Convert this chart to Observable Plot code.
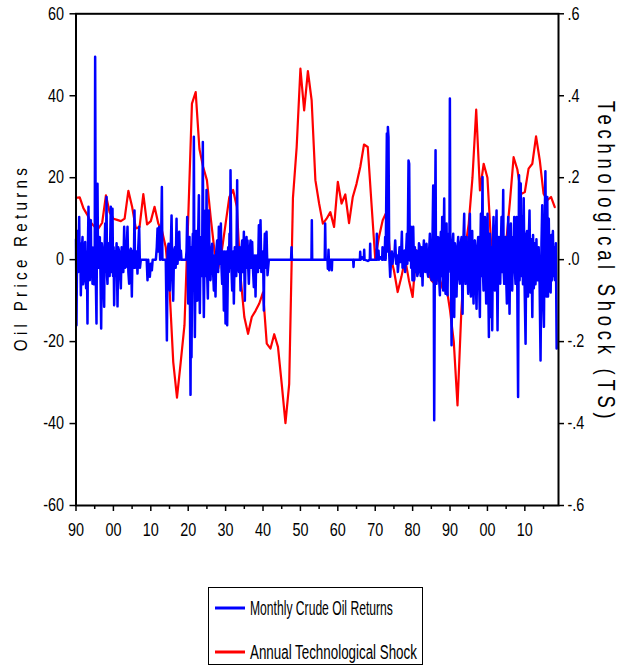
<!DOCTYPE html>
<html>
<head>
<meta charset="utf-8">
<script src="https://cdn.jsdelivr.net/npm/d3@7"></script>
<script src="https://cdn.jsdelivr.net/npm/@observablehq/plot@0.6"></script>
<style>
  html, body { margin: 0; padding: 0; background: #fff; }
  body { width: 618px; height: 666px; position: relative; overflow: hidden;
         font-family: "Liberation Sans", Arial, sans-serif; }
  #chart { position: absolute; left: 0; top: 0; }
  #legend { position: absolute; left: 208px; top: 587px; width: 215px; height: 78px;
            border: 1px solid #000; box-sizing: border-box; background: #fff; }
  #legend svg { position: absolute; left: 0; top: 0; overflow: visible; }
</style>
</head>
<body>
<div id="chart"></div>
<div id="legend"></div>
<script>
// ---------------- data ----------------
const leftTitle = "Oil Price Returns";
const rightTitle = "Technological Shock (TS)";
const legendLabels = ["Monthly Crude Oil Returns", "Annual Technological Shock"];

const yTicks = [-60, -40, -20, 0, 20, 40, 60];
const leftTickLabels = ["-60", "-40", "-20", "0", "20", "40", "60"];
const rightTickLabels = ["-.6", "-.4", "-.2", ".0", ".2", ".4", ".6"];
const xMajorTicks = [1890, 1900, 1910, 1920, 1930, 1940, 1950, 1960, 1970, 1980, 1990, 2000, 2010];
const xTickLabels = ["90", "00", "10", "20", "30", "40", "50", "60", "70", "80", "90", "00", "10"];
const xMinorTicks = [1895, 1905, 1915, 1925, 1935, 1945, 1955, 1965, 1975, 1985, 1995, 2005, 2015];

// Annual technological shock, 1890 .. 2018 (right axis units)
const tsStartYear = 1890;
const tsValues = [
  0.151, 0.152, 0.125, 0.110, 0.090, 0.080, 0.076, 0.090, 0.157, 0.115,   // 1890s
  0.100, 0.097, 0.094, 0.100, 0.168, 0.129, 0.076, 0.080, 0.160, 0.086,   // 1900s
  0.094, 0.129, 0.088, 0.070, 0.030, -0.070, -0.250, -0.337, -0.250, -0.160, // 1910s
  0.100, 0.381, 0.409, 0.270, 0.226, 0.194, 0.104, 0.023, -0.022, 0.023,  // 1920s
  0.088, 0.153, 0.170, 0.129, -0.042, -0.140, -0.181, -0.140, -0.125, -0.107, // 1930s
  -0.080, -0.205, -0.217, -0.182, -0.213, -0.303, -0.399, -0.303, 0.150, 0.275, // 1940s
  0.466, 0.364, 0.460, 0.389, 0.194, 0.137, 0.088, 0.100, 0.116, 0.080,   // 1950s
  0.190, 0.137, 0.159, 0.089, 0.153, 0.185, 0.226, 0.281, 0.275, 0.137,   // 1960s
  0.002, 0.055, 0.096, 0.116, 0.010, -0.026, -0.079, -0.042, 0.002, -0.050, // 1970s
  -0.091, 0.023, 0.005, 0.000, -0.030, -0.050, -0.060, -0.040, -0.070, -0.064, // 1980s
  -0.124, -0.200, -0.356, -0.131, 0.023, 0.088, 0.200, 0.366, 0.169, 0.234, // 1990s
  0.200, 0.035, -0.020, -0.040, -0.010, 0.040, 0.140, 0.250, 0.220, 0.160, // 2000s
  0.165, 0.222, 0.234, 0.301, 0.242, 0.161, 0.145, 0.153, 0.128           // 2010s
];

// Monthly crude oil returns (%) as [decimal year, return]
const oilReturns = [
  [1890.0,5],[1890.13,-16],[1890.3,3],[1890.4,7],[1890.6,-3],[1890.85,10.4],[1891.0,-2],[1891.15,4],[1891.29,-8.7],[1891.5,1],
  [1891.74,5.5],[1891.9,-6],[1892.18,-4],[1892.3,3],[1892.45,4.3],[1892.7,-7],[1892.9,2],[1893.07,-15.6],[1893.2,4],[1893.34,12.9],
  [1893.5,-3],[1893.7,-5],[1893.85,6],[1893.97,9.6],[1894.1,-4],[1894.25,3],[1894.41,-5.9],[1894.6,2],[1894.75,-6],[1894.86,3],
  [1895.0,-3],[1895.12,49.5],[1895.3,-5],[1895.48,-15.6],[1895.6,6],[1895.75,18.5],[1895.9,-2],[1896.02,-2],[1896.2,5],[1896.37,5.5],
  [1896.55,-4],[1896.73,-16.8],[1896.9,4],[1897.09,2],[1897.3,-5],[1897.53,-11.5],[1897.65,3],[1897.8,8.8],[1898.0,-3],[1898.16,15.3],
  [1898.3,-4],[1898.42,-5.9],[1898.6,4],[1898.87,3],[1899.0,-4],[1899.15,5],[1899.31,12.9],[1899.5,-3],[1899.76,12.4],[1899.9,-4],
  [1900.05,3],[1900.2,-11.1],[1900.4,2],[1900.65,-1.5],[1900.85,4],[1901.1,-11.4],[1901.3,3],[1901.54,2],[1901.75,-3],[1901.99,-7],
  [1902.2,3],[1902.43,2],[1902.65,-3],[1902.88,8],[1903.1,-2],[1903.32,-1.8],[1903.55,3],[1903.77,8],[1904.0,-3],[1904.22,-5.9],
  [1904.45,2],[1904.66,2.7],[1904.8,-3],[1904.93,-9],[1905.1,2],[1905.29,2.2],[1905.45,-2],[1905.64,12],[1905.8,-2],[1906.0,-0.7],
  [1906.2,2],[1906.44,-3.4],[1906.65,3],[1906.89,8],[1907.1,-2],[1907.33,0],[1908.9,0],[1909.12,-5],[1909.3,0],[1909.5,-3],
  [1909.74,-4.2],[1910.0,-1],[1910.28,-2.6],[1910.5,0],[1911.35,0],[1911.6,3],[1911.8,7.6],[1912.0,2],[1912.24,8],[1912.5,0],
  [1912.69,0.6],[1912.96,17.7],[1913.1,0],[1914.0,0],[1914.3,-19.7],[1914.5,2],[1914.74,3.9],[1914.9,-2],[1915.1,-7.5],[1915.3,2],
  [1915.55,10.8],[1915.75,-3],[1915.99,-10],[1916.2,2],[1916.44,3],[1916.65,-2],[1916.88,10],[1917.0,-1],[1917.15,-1],[1917.35,3],
  [1917.6,6.8],[1917.8,0],[1918.04,2.2],[1918.2,0],[1919.38,0],[1919.55,2],[1919.73,10.4],
  [1920.0,-10.7],[1920.35,5.5],[1920.62,-33],[1920.75,3],[1920.88,-23.8],[1921.1,2],[1921.24,6.3],[1921.4,-5],[1921.51,30],[1921.65,-3],
  [1921.78,-18.9],[1922.0,3],[1922.13,7],[1922.25,-4],[1922.4,-10],[1922.6,3],[1922.85,15.7],[1923.0,-4],[1923.11,-13],[1923.3,2],
  [1923.47,5.5],[1923.7,-4],[1923.91,28.7],[1924.05,-3],[1924.18,-14],[1924.4,3],[1924.63,12],[1924.75,-4],[1924.9,17],[1925.05,-3],
  [1925.25,-9.5],[1925.4,2],[1925.52,12],[1925.75,-3],[1925.96,-5],[1926.2,2],[1926.41,3.9],[1926.65,-3],[1926.86,-7.5],[1927.1,1],
  [1927.3,-9],[1927.5,2],[1927.75,4.7],[1928.0,-3],[1928.19,8],[1928.46,-1],[1928.73,8.8],[1928.9,-2],[1929.08,-5.9],[1929.3,2],
  [1929.53,-12.4],[1929.75,2],[1929.98,-15.6],[1930.2,2],[1930.42,-16],[1930.69,3],[1930.85,-3],[1931.04,6.3],[1931.2,-2],[1931.31,21.8],
  [1931.55,-2],[1931.76,-7.5],[1932.0,2],[1932.2,-10.7],[1932.45,3],[1932.65,2.2],[1932.85,-4],[1933.09,19.4],[1933.2,-2],[1933.36,0.6],
  [1933.55,-3],[1933.72,3],[1933.99,-7.5],[1934.2,2],[1934.43,4.7],[1934.65,-3],[1934.88,6.8],[1935.0,-2],[1935.14,-10],[1935.35,3],
  [1935.59,5.5],[1935.7,-2],[1935.86,4.7],[1936.05,-2],[1936.21,-5.9],[1936.45,2],[1936.66,4.7],[1936.85,-2],[1937.1,4.3],[1937.3,-2],
  [1937.55,-6.7],[1937.8,1],[1938.0,-9],[1938.2,1],[1938.44,0.6],[1938.65,-3],[1938.89,8.4],[1939.1,-2],[1939.33,9.6],[1939.55,-3],
  [1939.78,-0.2],[1940.0,2],[1940.22,-12.4],[1940.35,2],[1940.49,6.3],[1940.7,-2],[1940.94,6.8],[1941.2,-3.8],[1941.56,0],
  [1947.5,0],[1947.62,3],[1947.75,0],[1952.95,0],[1953.05,9.6],[1953.15,0],[1956.5,0],[1956.62,8.8],[1956.75,0],[1957.25,0],
  [1957.33,-2.2],[1957.51,2.4],[1957.69,-2.6],[1957.8,0],[1958.3,0],[1958.4,-2.6],[1958.5,0],[1964.1,0],[1964.2,-1.8],[1964.3,0],
  [1965.9,0],[1965.98,1.9],[1966.1,0],[1966.42,0.6],[1966.95,0],[1967.05,2.4],[1967.15,0],[1968.03,-0.3],[1968.55,0],[1968.65,3.9],
  [1968.75,0],[1970.33,0],[1970.43,6.3],[1970.55,0],[1970.88,2.2],[1971.0,0],[1971.33,0.6],[1971.85,0],[1971.95,3],[1972.1,0],
  [1972.31,2.2],[1972.5,0],[1972.66,5.5],[1972.8,0],[1973.11,30.8],[1973.25,2],[1973.38,32.4],[1973.55,30],[1973.73,1.5],[1974.0,-4.2],
  [1974.27,0.6],[1974.45,2],[1974.62,-1],[1974.9,1],[1975.16,1.5],[1975.34,4.7],[1975.6,-1],[1975.87,1],[1976.05,-3],[1976.23,-1],
  [1976.5,3],[1976.76,-0.6],[1976.95,2],[1977.12,6.8],[1977.3,-2],[1977.48,-1],[1977.65,2],[1977.83,2.2],[1978.0,-3],[1978.19,0.6],
  [1978.46,6.3],[1978.6,-1],[1978.72,5.5],[1978.9,24.2],[1979.08,23.4],[1979.26,-0.2],[1979.4,3],[1979.53,8],[1979.6,-2],[1979.79,5.5],
  [1979.95,-5],[1980.16,8],[1980.42,-5],[1980.6,3],[1980.8,-3],[1981.05,2.2],[1981.25,-4],[1981.49,-3],[1981.7,4],[1981.94,3],
  [1982.15,-4],[1982.38,3],[1982.65,-6.3],[1982.85,2],[1983.01,4.7],[1983.2,-2],[1983.36,-3],[1983.55,3],[1983.72,3.9],[1983.95,-3],
  [1984.17,-4.2],[1984.4,2],[1984.61,6.3],[1984.85,-3],[1985.06,-5],[1985.3,4],[1985.5,18.1],[1985.65,-5],[1985.77,-39.2],[1985.95,3],
  [1986.13,26.7],[1986.25,-3],[1986.39,-5.9],[1986.6,4],[1986.84,5.5],[1987.05,-4],[1987.29,-8.7],[1987.42,3],[1987.55,6.8],[1987.7,-4],
  [1987.91,10.4],[1988.05,-3],[1988.18,-7.5],[1988.3,4],[1988.44,14.9],[1988.6,-4],[1988.8,-8.3],[1988.95,3],[1989.07,8.8],[1989.2,-3],
  [1989.33,-8.7],[1989.5,3],[1989.69,6.3],[1989.82,-2],[1989.96,39.3],[1990.1,-3],[1990.23,-1],[1990.41,-20.9],[1990.6,3],[1990.85,6.3],
  [1991.0,-4],[1991.12,-14],[1991.3,4],[1991.47,2.2],[1991.6,-4],[1991.74,-9],[1992.0,3],[1992.19,5.5],[1992.4,-4],[1992.63,-5.9],
  [1992.85,4],[1993.08,5.5],[1993.2,-4],[1993.35,-13.2],[1993.55,4],[1993.79,11.2],[1993.95,-3],[1994.15,-5.9],[1994.3,4],[1994.42,5.5],
  [1994.65,-3],[1994.86,-8.3],[1995.1,4],[1995.31,11.2],[1995.45,-3],[1995.57,-9],[1995.75,3],[1995.93,7],[1996.1,-4],[1996.29,-10.7],
  [1996.45,4],[1996.64,4.7],[1996.85,-4],[1997.09,-12],[1997.3,3],[1997.53,5.5],[1997.75,-4],[1997.98,-14],[1998.1,3],[1998.25,11.2],
  [1998.45,-4],[1998.69,20.2],[1998.8,-3],[1998.96,-7.5],[1999.15,4],[1999.32,10.4],[1999.5,-3],[1999.67,-10.7],[1999.85,4],[2000.03,11.2],
  [2000.2,-4],[2000.39,-18.9],[2000.5,3],[2000.65,6.3],[2000.8,-4],[2000.92,-14],[2001.1,3],[2001.28,-17.2],[2001.45,4],[2001.63,10.4],
  [2001.8,-3],[2001.99,-7.5],[2002.2,4],[2002.44,12],[2002.55,-4],[2002.7,-17.2],[2002.9,3],[2003.06,5.5],[2003.25,-4],[2003.42,-5.9],
  [2003.6,4],[2003.77,10.4],[2003.95,-3],[2004.22,17],[2004.35,-3],[2004.49,-5.9],[2004.65,4],[2004.84,5.5],[2005.0,-4],[2005.2,-10.7],
  [2005.4,4],[2005.56,10.4],[2005.75,-4],[2005.91,-13.2],[2006.1,4],[2006.27,8.8],[2006.45,-3],[2006.63,-7.5],[2006.78,3],[2006.89,5.5],
  [2007.0,-3],[2007.16,10.4],[2007.35,-3],[2007.52,-5.9],[2007.65,4],[2007.78,10.4],[2007.95,-3],[2008.2,-33.5],[2008.35,4],[2008.45,20.6],
  [2008.6,-5],[2008.9,18.6],[2009.1,-4],[2009.3,10.4],[2009.5,-6],[2009.7,15],[2009.95,-7],[2010.2,-20.5],[2010.4,6],[2010.6,7],
  [2010.85,-9],[2011.05,5],[2011.25,12],[2011.5,-8],[2011.75,5],[2012.0,-14],[2012.2,6],[2012.4,-7],[2012.6,4],[2012.85,-6],
  [2013.1,5],[2013.35,-5],[2013.7,3],[2013.95,-6],[2014.2,-24.6],[2014.45,4],[2014.65,13.3],[2014.9,-10],[2015.1,-16.4],[2015.3,8],
  [2015.5,21.6],[2015.75,-9],[2016.0,15.3],[2016.2,-9],[2016.4,10],[2016.65,-5],[2016.9,-8],[2017.1,6],[2017.3,-5],[2017.5,7],
  [2017.7,-4],[2017.9,3],[2018.1,-5],[2018.3,4],[2018.5,-21.7]
];

// ---------------- chart ----------------
const FONT = '"Liberation Sans", Arial, sans-serif';
const BLUE = "#0000ff", RED = "#ff0000";
const NARROW = 0.8; // horizontal squeeze to imitate a narrow typeface

const oilData = oilReturns.map(([t, v]) => ({t, v}));
const tsData = tsValues.map((v, i) => ({t: tsStartYear + i, v: v * 100})); // right axis = left axis / 100

const chart = Plot.plot({
  width: 618,
  height: 548,
  marginLeft: 75.5,
  marginRight: 60,
  marginTop: 13.3,
  marginBottom: 43,
  style: {fontFamily: FONT, fontSize: "18px", color: "#000", background: "#fff", overflow: "visible"},
  x: {domain: [1890, 2019]},
  y: {domain: [-60, 60]},
  marks: [
    Plot.lineY(tsData, {x: "t", y: "v", stroke: RED, strokeWidth: 2.2}),
    Plot.lineY(oilData, {x: "t", y: "v", stroke: BLUE, strokeWidth: 2.5}),
    Plot.frame({stroke: "#000", strokeWidth: 2}),
    Plot.axisY({anchor: "left", ticks: yTicks, tickSize: 6, tickPadding: 6, strokeWidth: 1.5,
                tickFormat: d => leftTickLabels[yTicks.indexOf(d)], label: null}),
    Plot.axisY({anchor: "right", ticks: yTicks, tickSize: 5, tickPadding: 4, strokeWidth: 1.5,
                tickFormat: d => rightTickLabels[yTicks.indexOf(d)], label: null}),
    Plot.axisX({ticks: xMajorTicks, tickSize: 6, tickPadding: 12, strokeWidth: 1.5,
                tickFormat: d => xTickLabels[xMajorTicks.indexOf(d)], label: null}),
    Plot.axisX({ticks: xMinorTicks, tickSize: 4, strokeWidth: 1.5, tickFormat: () => "", label: null}),
    Plot.text([leftTitle], {frameAnchor: "left", textAnchor: "middle", rotate: -90, dx: -55.5,
                            fontSize: 19, fill: "#000"}),
    Plot.text([rightTitle], {frameAnchor: "right", textAnchor: "middle", rotate: 90, dx: 47,
                             fontSize: 23, fill: "#000"})
  ]
});

// squeeze every text along its reading direction, around its own anchor
d3.select(chart).selectAll("text").each(function() {
  const t = this.getAttribute("transform") || "";
  this.setAttribute("transform", `${t} scale(${NARROW},1)`);
  if (this.textContent === leftTitle) {
    this.setAttribute("textLength", 183 / NARROW);
    this.setAttribute("lengthAdjust", "spacing");
  }
  if (this.textContent === rightTitle) {
    this.setAttribute("textLength", 318 / NARROW);
    this.setAttribute("lengthAdjust", "spacing");
  }
});
document.getElementById("chart").appendChild(chart);

// ---------------- legend ----------------
const lg = d3.select("#legend").append("svg").attr("width", 213).attr("height", 76);
const rows = [{label: legendLabels[0], color: BLUE, y: 20, w: 143},
              {label: legendLabels[1], color: RED, y: 64, w: 167}];
rows.forEach(r => {
  lg.append("line").attr("x1", 6).attr("x2", 36).attr("y1", r.y).attr("y2", r.y)
    .attr("stroke", r.color).attr("stroke-width", 3);
  const t = lg.append("text").attr("y", r.y).attr("dy", "0.36em")
    .attr("font-family", FONT).attr("font-size", 20).attr("fill", "#000").text(r.label);
  const natural = t.node().getComputedTextLength();
  t.attr("transform", `translate(41,0) scale(${r.w / natural},1)`);
});
</script>
</body>
</html>
